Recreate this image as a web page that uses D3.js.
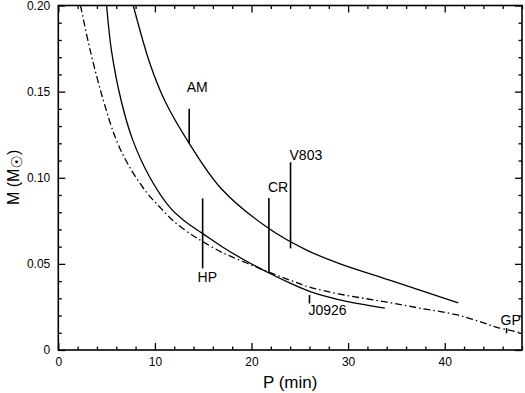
<!DOCTYPE html>
<meta charset="utf-8">
<style>
body { margin: 0; background: #fff; }
text { font-family: "Liberation Sans", Arial, sans-serif; fill: #000; }
.axis .domain { display: none; }
.axis line { stroke: #000; stroke-width: 1.3; }
</style>
<div id="chart"></div>
<script src="https://d3js.org/d3.v7.min.js"></script>
<script>

// dash-dot track (lowest mass curve)
var dashP = [2.3, 3.3, 4.66, 6.0, 7.4, 9.14, 10.5, 12.0, 14.0, 15.0, 17.0, 19.5, 21.8, 24.0, 26.0, 29.1, 34.0, 37.5, 41.2, 43.6, 45.4, 47.9];
var dashM = [0.200, 0.174, 0.145, 0.122, 0.106, 0.0915, 0.083, 0.0745, 0.0662, 0.0628, 0.0565, 0.0505, 0.0452, 0.0405, 0.0365, 0.0325, 0.0278, 0.0242, 0.0205, 0.0165, 0.0132, 0.0100];

// middle solid track
var midP = [5.0, 5.5, 6.5, 7.7, 9.5, 11.55, 13.0, 15.0, 17.0, 19.5, 21.8, 24.0, 26.0, 29.0, 33.8];
var midM = [0.200, 0.174, 0.145, 0.122, 0.100, 0.0828, 0.0752, 0.0674, 0.0598, 0.0515, 0.0447, 0.0388, 0.0340, 0.0293, 0.0243];

// right solid track
var hiP = [7.76, 9.5, 11.0, 13.55, 16.9, 21.8, 25.7, 29.1, 34.3, 41.4];
var hiM = [0.200, 0.166, 0.145, 0.120, 0.0935, 0.0705, 0.058, 0.0502, 0.0406, 0.0274];

// observed systems: period, mass range
var sysNames = ["AM", "HP", "CR", "V803", "J0926", "GP"];
var sysP = [13.55, 14.94, 21.8, 24.04, 26.0, 46.4];
var sysLo = [0.120, 0.0474, 0.0452, 0.059, 0.027, 0.0097];
var sysHi = [0.140, 0.088, 0.0883, 0.109, 0.0319, 0.0128];

var xTicks = [0, 10, 20, 30, 40];
var yTicks = [0, 0.05, 0.10, 0.15, 0.20];
var yTickLabels = ["0", "0.05", "0.10", "0.15", "0.20"];

var W = 525, H = 393;
var margin = {top: 5.5, right: 3, bottom: 43, left: 58.3};
var width = W - margin.left - margin.right,
    height = H - margin.top - margin.bottom;

var svg = d3.select("#chart").append("svg")
    .attr("width", W)
    .attr("height", H);
var g = svg.append("g").attr("transform", "translate(" + margin.left + "," + margin.top + ")");

var x = d3.scaleLinear().domain([0, 48]).range([0, width]);
var y = d3.scaleLinear().domain([0, 0.2]).range([height, 0]);

var xMinor = d3.range(0, 48.01, 2).filter(function(d) { return d % 10 != 0; });
var yMinor = d3.range(1, 20).filter(function(d) { return d % 5 != 0; }).map(function(d) { return d / 100; });

// bottom
g.append("g").attr("class", "axis")
    .attr("transform", "translate(0," + height + ")")
    .call(d3.axisBottom(x).tickValues(xTicks).tickSize(-7).tickPadding(7).tickFormat(d3.format("d")))
    .selectAll("text").attr("font-size", 12).style("font-family", "'Liberation Sans', Arial, sans-serif");
g.append("g").attr("class", "axis")
    .attr("transform", "translate(0," + height + ")")
    .call(d3.axisBottom(x).tickValues(xMinor).tickSize(-3.5).tickFormat(""));
// top
g.append("g").attr("class", "axis")
    .call(d3.axisTop(x).tickValues(xTicks).tickSize(-7).tickFormat(""));
g.append("g").attr("class", "axis")
    .call(d3.axisTop(x).tickValues(xMinor).tickSize(-3.5).tickFormat(""));
// left
g.append("g").attr("class", "axis")
    .call(d3.axisLeft(y).tickValues(yTicks).tickSize(-7).tickPadding(8).tickFormat(function(d, i) { return yTickLabels[i]; }))
    .selectAll("text").attr("font-size", 12).style("font-family", "'Liberation Sans', Arial, sans-serif");
g.append("g").attr("class", "axis")
    .call(d3.axisLeft(y).tickValues(yMinor).tickSize(-3.5).tickFormat(""));
// right
g.append("g").attr("class", "axis")
    .attr("transform", "translate(" + width + ",0)")
    .call(d3.axisRight(y).tickValues(yTicks).tickSize(-7).tickFormat(""));
g.append("g").attr("class", "axis")
    .attr("transform", "translate(" + width + ",0)")
    .call(d3.axisRight(y).tickValues(yMinor).tickSize(-3.5).tickFormat(""));

g.append("rect")
    .attr("width", width)
    .attr("height", height)
    .attr("fill", "none")
    .attr("stroke", "#000")
    .attr("stroke-width", 1.6);

var line = d3.line()
    .x(function(d) { return x(d[0]); })
    .y(function(d) { return y(d[1]); })
    .curve(d3.curveCatmullRom.alpha(0.5));

function pairs(ps, ms) { return ps.map(function(p, i) { return [p, ms[i]]; }); }

var plot = g.append("g");

plot.append("path")
    .attr("d", line(pairs(dashP, dashM)))
    .attr("fill", "none")
    .attr("stroke", "#000")
    .attr("stroke-width", 1.3)
    .attr("stroke-dasharray", "7,3,1.5,3");

plot.append("path")
    .attr("d", line(pairs(midP, midM)))
    .attr("fill", "none")
    .attr("stroke", "#000")
    .attr("stroke-width", 1.3);

plot.append("path")
    .attr("d", line(pairs(hiP, hiM)))
    .attr("fill", "none")
    .attr("stroke", "#000")
    .attr("stroke-width", 1.3);

// system markers
plot.selectAll(".sys")
    .data(sysNames)
    .enter().append("line")
      .attr("class", "sys")
      .attr("x1", function(d, i) { return x(sysP[i]); })
      .attr("x2", function(d, i) { return x(sysP[i]); })
      .attr("y1", function(d, i) { return y(sysLo[i]); })
      .attr("y2", function(d, i) { return y(sysHi[i]); })
      .attr("stroke", "#000")
      .attr("stroke-width", 1.6);

// label offsets relative to marker (px)
var labDx = [8, -5, -1, -1, -1, -6];
var labY = [0.150, 0.0395, 0.0915, 0.1105, 0.0203, 0.0145];
var labAnchor = ["middle", "start", "start", "start", "start", "start"];

plot.selectAll(".lab")
    .data(sysNames)
    .enter().append("text")
      .attr("class", "lab")
      .attr("x", function(d, i) { return x(sysP[i]) + labDx[i]; })
      .attr("y", function(d, i) { return y(labY[i]); })
      .attr("text-anchor", function(d, i) { return labAnchor[i]; })
      .attr("font-size", 14)
      .text(function(d) { return d; });

// axis titles
svg.append("text")
    .attr("x", margin.left + width / 2)
    .attr("y", 388)
    .attr("text-anchor", "middle")
    .attr("font-size", 17)
    .text("P (min)");

var yl = svg.append("text")
    .attr("transform", "translate(18.5,205) rotate(-90)")
    .attr("text-anchor", "start")
    .attr("font-size", 16);
yl.append("tspan").text("M (M");
yl.append("tspan").attr("font-size", 15).attr("dy", 3).style("font-family", "'DejaVu Sans', sans-serif").text("\u2609");
yl.append("tspan").attr("dy", -3).text(")");

</script>
